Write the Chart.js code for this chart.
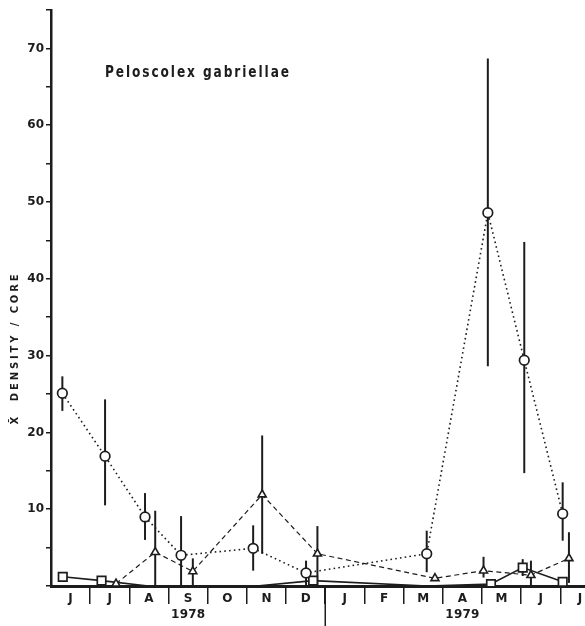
<!DOCTYPE html>
<html>
<head>
<meta charset="utf-8">
<script src="https://cdn.jsdelivr.net/npm/chart.js@4.4.1/dist/chart.umd.min.js"></script>
<style>
  html, body { margin: 0; padding: 0; background: #fff; }
</style>
</head>
<body>
<canvas id="densityChart" width="585" height="626"></canvas>
<script>
// x values are months counted from 1 June 1978 (0) onward
const monthLabels = ['J', 'J', 'A', 'S', 'O', 'N', 'D', 'J', 'F', 'M', 'A', 'M', 'J', 'J'];
const yearLabels = ['1978', '1979'];
const yearPositions = [3.5, 10.5];

// circles, dotted line
const circleX = [0.29, 1.38, 2.40, 3.32, 5.16, 6.51, 9.59, 11.15, 12.08, 13.06];
const circleY = [25.1, 16.9, 9.0, 4.0, 4.9, 1.7, 4.2, 48.6, 29.4, 9.4];
const circleLow = [22.8, 10.5, 6.0, 0, 2.0, 0, 1.8, 28.6, 14.7, 5.9];
const circleHigh = [27.3, 24.3, 12.1, 9.1, 7.9, 3.3, 7.2, 68.7, 44.8, 13.5];

// triangles, dashed line
const triangleX = [1.66, 2.66, 3.62, 5.39, 6.80, 9.80, 11.04, 12.25, 13.22];
const triangleY = [0.3, 4.4, 1.9, 11.9, 4.2, 1.0, 2.0, 1.4, 3.6];
const triangleLow = [null, 0, 0, 4.2, 0, null, 1.1, 0, 0.4];
const triangleHigh = [null, 9.8, 3.6, 19.6, 7.8, null, 3.8, 3.3, 7.0];

// squares, solid line
const squareX = [0.30, 1.29, 2.48, 5.25, 6.69, 9.60, 11.23, 12.04, 13.06];
const squareY = [1.2, 0.7, 0, 0, 0.7, 0, 0.25, 2.4, 0.55];
const squareLow = [null, null, null, null, null, null, null, 1.3, null];
const squareHigh = [null, null, null, null, null, null, null, 3.5, null];

const ink = '#1c1c1c';

function toPoints(xs, ys) {
    return xs.map((x, i) => ({ x: x, y: ys[i] }));
}

// draw text squeezed/stretched to a given length with letter spacing
function spacedText(ctx, text, x, y, targetWidth, align) {
    ctx.letterSpacing = '0px';
    const w = ctx.measureText(text).width;
    const n = [...text].length;
    const gap = n > 1 ? (targetWidth - w) / (n - 1) : 0;
    ctx.letterSpacing = gap + 'px';
    const total = w + gap * (n - 1);
    const startX = align === 'center' ? x - total / 2 : x;
    ctx.textAlign = 'left';
    ctx.fillText(text, startX, y);
    ctx.letterSpacing = '0px';
}

// tall condensed heading: fixed spacing, squeezed horizontally to the width
function condensedText(ctx, text, x, y, targetWidth, spacing) {
    ctx.letterSpacing = '0px';
    const n = [...text].length;
    const total = ctx.measureText(text).width + spacing * (n - 1);
    ctx.save();
    ctx.translate(x, y);
    ctx.scale(targetWidth / total, 1);
    ctx.letterSpacing = spacing + 'px';
    ctx.textAlign = 'left';
    ctx.fillText(text, 0, 0);
    ctx.restore();
}

// vertical error bars, drawn under the markers
const errorBars = {
    id: 'errorBars',
    beforeDatasetsDraw(chart) {
        const ctx = chart.ctx;
        const xs = chart.scales.x, ys = chart.scales.y;
        ctx.save();
        ctx.strokeStyle = ink;
        ctx.lineWidth = 2;
        chart.data.datasets.forEach(ds => {
            ds.data.forEach((p, i) => {
                if (ds.errLow[i] === null) return;
                const px = xs.getPixelForValue(p.x);
                ctx.beginPath();
                ctx.moveTo(px, ys.getPixelForValue(ds.errLow[i]));
                ctx.lineTo(px, ys.getPixelForValue(ds.errHigh[i]));
                ctx.stroke();
            });
        });
        ctx.restore();
    }
};

// species name, axis title, years and the year divider
const labels = {
    id: 'labels',
    afterDraw(chart) {
        const ctx = chart.ctx;
        const xs = chart.scales.x;
        ctx.save();
        ctx.fillStyle = ink;
        ctx.textBaseline = 'middle';

        ctx.font = 'bold 16px "DejaVu Sans"';
        condensedText(ctx, 'Peloscolex gabriellae', 105, 73, 184, 2.5);

        ctx.save();
        ctx.translate(15, 348);
        ctx.rotate(-Math.PI / 2);
        ctx.font = 'bold 10px "DejaVu Sans"';
        spacedText(ctx, 'X\u0304  DENSITY / CORE', 0, 0, 153, 'center');
        ctx.restore();

        ctx.font = 'bold 12px "DejaVu Sans"';
        yearLabels.forEach((t, i) => {
            spacedText(ctx, t, xs.getPixelForValue(yearPositions[i]), 615, 34, 'center');
        });

        ctx.strokeStyle = ink;
        ctx.lineWidth = 1.5;
        const dx = xs.getPixelForValue(7);
        ctx.beginPath();
        ctx.moveTo(dx, xs.top);
        ctx.lineTo(dx, 626);
        ctx.stroke();
        ctx.restore();
    }
};

const ctx = document.getElementById('densityChart').getContext('2d');
const densityChart = new Chart(ctx, {
    type: 'scatter',
    data: {
        datasets: [
            {
                label: 'circles',
                data: toPoints(circleX, circleY),
                errLow: circleLow,
                errHigh: circleHigh,
                showLine: true,
                borderColor: ink,
                borderWidth: 1.6,
                borderDash: [1.6, 3.2],
                pointStyle: 'circle',
                pointRadius: 4.8,
                pointBorderWidth: 1.7,
                pointBackgroundColor: '#fff',
                pointBorderColor: ink
            },
            {
                label: 'triangles',
                data: toPoints(triangleX, triangleY),
                errLow: triangleLow,
                errHigh: triangleHigh,
                showLine: true,
                borderColor: ink,
                borderWidth: 1.2,
                borderDash: [5, 3.5],
                pointStyle: 'triangle',
                pointRadius: 4.6,
                pointBorderWidth: 1.6,
                pointBackgroundColor: '#fff',
                pointBorderColor: ink
            },
            {
                label: 'squares',
                data: toPoints(squareX, squareY),
                errLow: squareLow,
                errHigh: squareHigh,
                showLine: true,
                borderColor: ink,
                borderWidth: 1.6,
                pointStyle: 'rect',
                pointRadius: c => (c.raw && c.raw.y === 0 ? 0 : 6),
                pointBorderWidth: 1.7,
                pointBackgroundColor: '#fff',
                pointBorderColor: ink
            }
        ]
    },
    options: {
        responsive: false,
        animation: false,
        layout: { autoPadding: false, padding: { top: 10, left: 0, right: 0, bottom: 0 } },
        plugins: {
            legend: { display: false },
            tooltip: { enabled: false }
        },
        scales: {
            x: {
                type: 'linear',
                min: 0,
                max: 13.63,
                afterBuildTicks: scale => {
                    const t = [];
                    for (let i = 0; i <= 13; i++) {
                        t.push({ value: i });
                        t.push({ value: i + 0.5 });
                    }
                    scale.ticks = t;
                },
                afterFit: scale => {
                    scale.height = 40;
                    scale.paddingLeft = 0;
                    scale.paddingRight = 0;
                },
                grid: {
                    drawOnChartArea: false,
                    tickLength: 18,
                    lineWidth: 1.5,
                    color: c => (c.tick && Number.isInteger(c.tick.value) && c.tick.value > 0) ? ink : 'rgba(0,0,0,0)'
                },
                border: { display: true, color: ink, width: 3 },
                ticks: {
                    autoSkip: false,
                    maxRotation: 0,
                    padding: -12,
                    color: ink,
                    font: { family: '"DejaVu Sans"', weight: 'bold', size: 12 },
                    callback: v => Number.isInteger(v) ? '' : monthLabels[Math.floor(v)]
                }
            },
            y: {
                min: 0,
                max: 75,
                afterFit: scale => {
                    scale.width = 51;
                    scale.paddingTop = 0;
                    scale.paddingBottom = 0;
                },
                grid: {
                    drawOnChartArea: false,
                    tickLength: 5,
                    lineWidth: 1.5,
                    color: ink
                },
                border: { display: true, color: ink, width: 2.5 },
                ticks: {
                    stepSize: 5,
                    padding: 2,
                    color: ink,
                    font: { family: '"DejaVu Sans"', weight: 'bold', size: 12 },
                    callback: v => (v % 10 === 0 && v !== 0) ? v : ''
                }
            }
        }
    },
    plugins: [errorBars, labels]
});
</script>
</body>
</html>
